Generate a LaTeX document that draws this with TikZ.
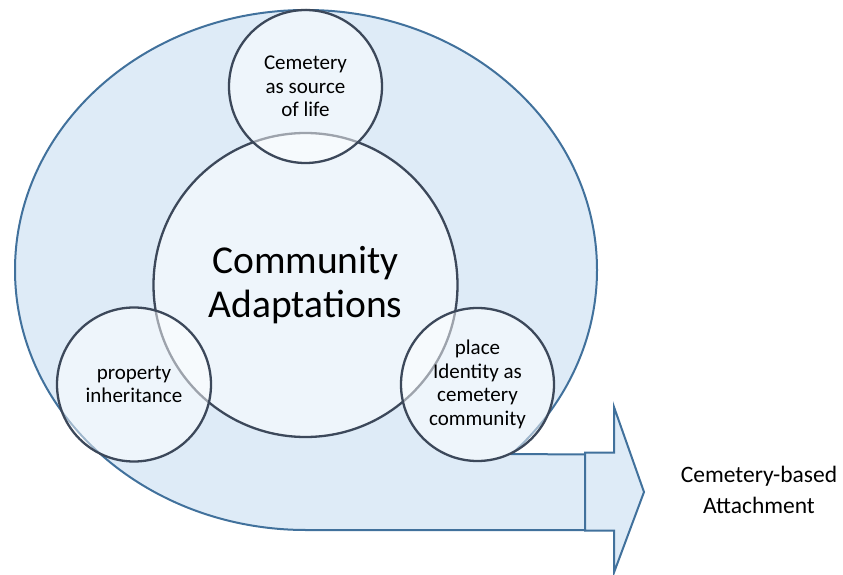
\documentclass[tikz,border=0pt]{standalone}
\usepackage{fontspec}
\setmainfont{Carlito}
\definecolor{bandfill}{RGB}{222,235,247}
\definecolor{bandline}{RGB}{65,113,156}
\definecolor{circline}{RGB}{60,72,90}
\tikzset{
  bandshape/.style={fill=bandfill, draw=bandline, line width=2pt, line join=miter},
  bubble/.style={circle, draw=circline, line width=2.3pt, fill=white, fill opacity=0.5, text opacity=1, inner sep=0pt, align=center, font=\fontsize{21}{23.5}\selectfont},
  bigbubble/.style={bubble, font=\fontsize{39.5}{43.5}\selectfont},
  caption/.style={align=center, font=\fontsize{23.5}{31}\selectfont}
}
\begin{document}
\begin{tikzpicture}[x=1pt,y=1pt]
\useasboundingbox (0,0) rectangle (843,574);
% curved band
\draw[bandshape] (306,44) arc[start angle=-90, end angle=-405.05, x radius=291pt, y radius=260pt]
  -- (585,119.5) -- (585,44) -- cycle;
% arrow
\draw[bandshape] (585,121.5) -- (614,121.5) -- (614,167) -- (644,82) -- (614,1.5) -- (614,43.5) -- (585,43.5) -- cycle;
% circles
\node[bigbubble, minimum size=304pt] (core) at (305.5,289) {Community\\Adaptations};
\node[bubble, minimum size=153pt] (life) at (305.5,487.5) {Cemetery\\as source\\of life};
\node[bubble, minimum size=154pt] (prop) at (134,189.5) {property\\inheritance};
\node[bubble, minimum size=153pt] (place) at (477.5,189.5) {place\\Identity as\\cemetery\\community};
\node[caption] (attach) at (759,84) {Cemetery-based\\Attachment};
\end{tikzpicture}
\end{document}
